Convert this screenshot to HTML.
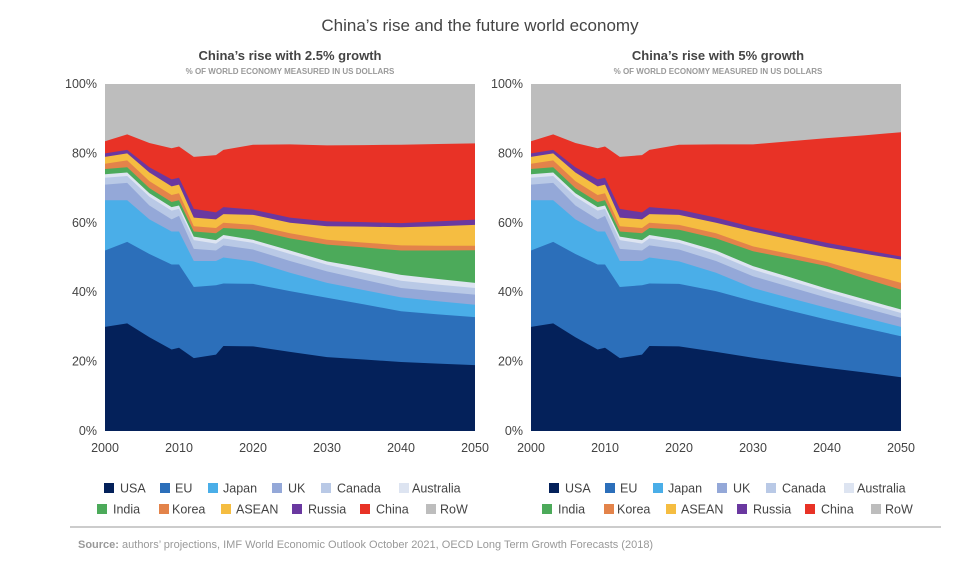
<!DOCTYPE html>
<html><head><meta charset="utf-8">
<style>
body{margin:0;background:#fff;font-family:"Liberation Sans",sans-serif;}
#wrap{position:relative;width:961px;height:566px;overflow:hidden;}
svg text{font-family:"Liberation Sans",sans-serif;}
</style></head>
<body><div id="wrap">
<svg id="svg" width="961" height="566">
<text x="480" y="31" text-anchor="middle" font-size="17" fill="#444">China’s rise and the future world economy</text>
<text x="290" y="60" text-anchor="middle" font-size="13" font-weight="bold" fill="#444">China’s rise with 2.5% growth</text>
<text x="290" y="74" text-anchor="middle" font-size="8" font-weight="bold" fill="#999">% OF WORLD ECONOMY MEASURED IN US DOLLARS</text>
<text x="718" y="60" text-anchor="middle" font-size="13" font-weight="bold" fill="#444">China’s rise with 5% growth</text>
<text x="718" y="74" text-anchor="middle" font-size="8" font-weight="bold" fill="#999">% OF WORLD ECONOMY MEASURED IN US DOLLARS</text>
<line x1="70" y1="527" x2="941" y2="527" stroke="#999" stroke-width="1"/>
<text x="78" y="548" font-size="11" fill="#999"><tspan font-weight="bold">Source:</tspan> authors’ projections, IMF World Economic Outlook October 2021, OECD Long Term Growth Forecasts (2018)</text>
</svg>
</div>
<script>
const years=[2000,2003,2006,2009,2010,2012,2015,2016,2020,2025,2030,2035,2040,2045,2050];
const seriesNames=["USA","EU","Japan","UK","Canada","Australia","India","Korea","ASEAN","Russia","China","RoW"];
const colors=["#04215a","#2c6fba","#4aaee8","#94a8d8","#b9c9e6","#dde4f1","#4caa5a","#e3834a","#f5bd41","#6a38a0","#e83226","#bdbdbd"];
const yTicks=[0,20,40,60,80,100];
const xTicks=[2000,2010,2020,2030,2040,2050];
// Left chart (2.5% growth) shares, %
const usaA=[30,31,27,23.5,24,21,22,24.5,24.4,22.8,21.3,20.6,19.9,19.4,19];
const euA=[22,23.5,24,24.5,24,20.5,20,18,18,17.5,17.1,15.9,14.6,14.2,13.8];
const japanA=[14.5,12,10,9.5,9.5,7.5,7,7.5,6.5,5.3,4.3,4.1,4,3.8,3.6];
const ukA=[4.5,5,4,3.5,4.5,3.5,3,3.5,3.4,3.4,3.3,3,2.7,2.8,2.9];
const canadaA=[2,2,2.5,2.5,2,2.5,2,2,1.9,2,1.9,2,2.1,2,1.9];
const australiaA=[1,1,1,1,1,1,1,1,0.9,1,1,1.4,1.7,1.6,1.5];
const indiaA=[1.5,1.5,1.5,1.5,1.5,1.5,2,2,2.9,3.5,4.8,5.9,7,8.2,9.4];
const koreaA=[1.5,2,2,2,2,1.5,1.5,1.5,1.4,1.5,1.4,1.4,1.5,1.4,1.3];
const aseanA=[2,2,2.5,2.5,2.5,2.5,2.5,2.5,2.9,3,3.9,4.6,5.2,5.6,6];
const russiaA=[1,1,1.5,2,2,2.5,2,2,1.5,1.5,1.4,1.3,1.2,1.4,1.5];
const chinaA=[3.5,4.5,7,9,9,15,16.5,16.5,18.7,21.1,21.9,22.2,22.6,22.3,22];
// Right chart (5% growth) shares, %
const usaB=[30,31,27,23.5,24,21,22,24.5,24.4,22.8,21.1,19.6,18.2,16.9,15.5];
const euB=[22,23.5,24,24.5,24,20.5,20,18,18,17.5,16.3,15.1,13.9,12.8,11.8];
const japanB=[14.5,12,10,9.5,9.5,7.5,7,7.5,6.5,5.3,3.8,3.6,3.4,3,2.7];
const ukB=[4.5,5,4,3.5,4.5,3.5,3,3.5,3.4,3.4,3.4,3.2,2.9,2.8,2.6];
const canadaB=[2,2,2.5,2.5,2,2.5,2,2,1.9,2,1.9,1.8,1.7,1.5,1.4];
const australiaB=[1,1,1,1,1,1,1,1,0.9,1,1,1,0.9,1,1];
const indiaB=[1.5,1.5,1.5,1.5,1.5,1.5,2,2,2.9,3.5,4.3,5.4,6.5,6,5.7];
const koreaB=[1.5,2,2,2,2,1.5,1.5,1.5,1.4,1.5,1.4,1.3,1.2,1.6,2];
const aseanB=[2,2,2.5,2.5,2.5,2.5,2.5,2.5,2.9,3,4.3,4.2,4.2,5.5,6.7];
const russiaB=[1,1,1.5,2,2,2.5,2,2,1.5,1.5,1.2,1.3,1.3,1.1,0.9];
const chinaB=[3.5,4.5,7,9,9,15,16.5,16.5,18.7,21.1,23.9,27,30.2,33,35.8];

const svg=document.getElementById('svg');
const NS="http://www.w3.org/2000/svg";
function mk(tag,attrs){const e=document.createElementNS(NS,tag);for(const k in attrs)e.setAttribute(k,attrs[k]);return e;}

function drawChart(prefix,series,x0,x1,legendOff){
  const y0=431,y1=84;
  const xs=v=>x0+(v-2000)/50*(x1-x0);
  const ys=v=>y0-v/100*(y0-y1);
  const g=mk('g',{});
  
  
  svg.appendChild(g);
  const bg=mk('rect',{x:x0,y:y1,width:x1-x0,height:y0-y1,fill:colors[11]});
  
  
  g.appendChild(bg);
  let base=years.map(()=>0);
  const tops=[];
  series.forEach((s,i)=>{const top=base.map((b,j)=>b+s[j]);tops.push([base,top]);base=top;});
  for(let i=series.length-1;i>=0;i--){
    const [b,t]=tops[i];
    let d='M'+xs(years[0])+','+ys(0);
    years.forEach((yr,j)=>{d+=' L'+xs(yr)+','+ys(t[j]);});
    d+=' L'+xs(years[years.length-1])+','+ys(0)+' Z';
    const p=mk('path',{d:d,fill:colors[i]});
    
    
    g.appendChild(p);
  }
  yTicks.forEach(v=>{
    const t=mk('text',{x:x0-8,y:ys(v)+4,'text-anchor':'end','font-size':12.5,fill:'#444'});
    t.textContent=v+'%';
    
    
    g.appendChild(t);
  });
  xTicks.forEach(v=>{
    const t=mk('text',{x:xs(v),y:452,'text-anchor':'middle','font-size':12.5,fill:'#444'});
    t.textContent=v;
    
    
    g.appendChild(t);
  });
  const lx=[[104,120],[160,175],[208,223],[272,288],[321,337],[399,412],[97,113],[159,172],[221,236],[292,308],[360,376],[426,440]];
  seriesNames.forEach((n,i)=>{
    const row=i<6?0:1;const yy=row?509:488;
    const r=mk('rect',{x:lx[i][0]+legendOff,y:yy-5,width:10,height:10,fill:colors[i]});
    
    
    g.appendChild(r);
    const t=mk('text',{x:lx[i][1]+legendOff,y:yy+4.5,'font-size':12.5,fill:'#444'});
    t.textContent=n;
    
    
    g.appendChild(t);
  });
}
drawChart('left',[usaA,euA,japanA,ukA,canadaA,australiaA,indiaA,koreaA,aseanA,russiaA,chinaA],105,475,0);
drawChart('right',[usaB,euB,japanB,ukB,canadaB,australiaB,indiaB,koreaB,aseanB,russiaB,chinaB],531,901,445);
</script>
</body></html>
